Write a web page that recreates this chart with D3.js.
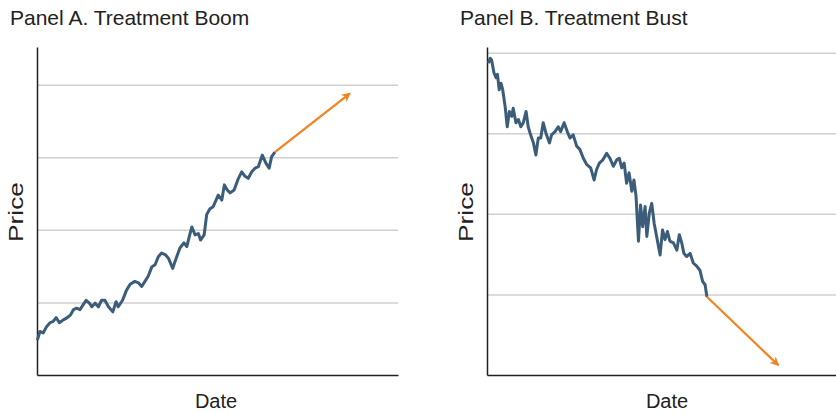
<!DOCTYPE html>
<html lang="en">
<head>
    <meta charset="UTF-8">
    <title>Treatment Boom and Bust</title>
    <script src="https://d3js.org/d3.v7.min.js"></script>
    <style>
        body {
            margin: 0;
            font-family: "Liberation Sans", Arial, Helvetica, sans-serif;
            background: white;
        }
        .title { font-size: 21px; fill: #222; }
        .label { font-size: 20px; fill: #222; }
    </style>
</head>
<body>
    <svg id="vis" width="836" height="414"></svg>
    <script>
        // Panel A: time (0-100) and price
        const boomT = [0.1, 0.8, 1.7, 2.7, 3.6, 4.5, 5.3, 6.2, 7.3, 8.4, 9.3, 10.1, 11.0, 11.9, 12.8, 13.6, 14.5, 15.2, 16.1, 17.0,
            17.9, 18.8, 19.8, 21.0, 21.9, 22.5, 23.7, 24.8, 25.8, 27.1, 28.1, 29.0, 29.9, 30.8, 31.8, 32.7, 33.6, 34.5, 35.5, 36.4,
            37.6, 38.7, 39.6, 40.7, 41.5, 42.2, 42.9, 43.8, 44.7, 45.3, 46.3, 47.0, 47.9, 48.8, 49.6, 50.2, 51.2, 51.9, 52.7, 53.5,
            54.6, 55.8, 56.7, 57.6, 58.5, 59.5, 60.4, 61.3, 62.4, 63.4, 64.3, 65.0, 65.9];
        const boomPrice = [0.48, 0.60, 0.58, 0.67, 0.72, 0.74, 0.79, 0.72, 0.76, 0.79, 0.83, 0.90, 0.92, 0.90, 0.97, 1.03, 0.99, 0.94, 0.99, 0.94,
            1.03, 1.03, 0.94, 0.87, 1.01, 0.94, 1.03, 1.17, 1.25, 1.29, 1.27, 1.22, 1.29, 1.36, 1.49, 1.52, 1.63, 1.68, 1.66, 1.61,
            1.47, 1.63, 1.75, 1.82, 1.77, 1.91, 2.04, 1.93, 1.95, 1.86, 1.93, 2.21, 2.29, 2.32, 2.41, 2.48, 2.41, 2.62, 2.55, 2.51,
            2.55, 2.71, 2.80, 2.74, 2.71, 2.80, 2.85, 2.87, 3.03, 2.92, 2.85, 3.01, 3.07];
        const boomArrowEnd = [86.7, 3.88];

        // Panel B
        const bustT = [0.4, 0.9, 1.3, 2.0, 2.6, 3.0, 3.5, 4.0, 4.5, 5.2, 5.8, 6.4, 7.1, 7.5, 8.3, 9.0, 9.7, 10.4, 11.2, 11.8,
            12.5, 13.3, 14.0, 14.7, 15.4, 16.1, 16.9, 17.9, 18.5, 19.5, 20.4, 21.1, 22.1, 23.0, 23.8, 24.7, 25.7, 26.6, 27.6, 28.6,
            29.7, 30.7, 31.4, 32.2, 33.2, 34.3, 35.2, 36.2, 37.2, 37.9, 38.6, 39.3, 40.0, 40.7, 41.5, 42.1, 42.7, 43.4, 44.0, 44.6,
            45.3, 45.8, 46.5, 47.2, 47.9, 48.6, 49.6, 50.3, 51.0, 51.7, 52.4, 53.4, 54.4, 55.1, 55.8, 56.4, 57.2, 58.2, 59.1, 60.1,
            61.0, 61.8, 62.5, 63.0];
        const bustPrice = [3.87, 3.93, 3.91, 3.75, 3.69, 3.73, 3.54, 3.62, 3.54, 3.33, 3.08, 3.27, 3.21, 3.31, 3.13, 3.17, 3.08, 3.13, 3.27, 3.08,
            2.98, 2.88, 2.73, 2.94, 2.94, 3.13, 3.00, 2.88, 2.98, 3.02, 3.08, 3.02, 3.13, 3.02, 2.94, 2.98, 2.84, 2.80, 2.69, 2.61,
            2.57, 2.42, 2.55, 2.63, 2.67, 2.75, 2.69, 2.59, 2.67, 2.69, 2.57, 2.63, 2.38, 2.51, 2.28, 2.42, 2.22, 1.66, 2.11, 1.84,
            2.09, 1.72, 2.01, 2.13, 1.88, 1.72, 1.49, 1.80, 1.68, 1.78, 1.66, 1.64, 1.55, 1.74, 1.64, 1.51, 1.47, 1.51, 1.39, 1.35,
            1.30, 1.16, 1.12, 0.97];
        const bustArrowEnd = [83.5, 0.12];

        const gridValues = [1, 2, 3, 4];
        const titles = ["Panel A. Treatment Boom", "Panel B. Treatment Bust"];

        const svg = d3.select("#vis");

        svg.append("defs").append("marker")
            .attr("id", "arrow")
            .attr("viewBox", "-10 -6 12 12")
            .attr("refX", 0)
            .attr("refY", 0)
            .attr("markerWidth", 12)
            .attr("markerHeight", 12)
            .attr("markerUnits", "userSpaceOnUse")
            .attr("orient", "auto")
            .append("path")
            .attr("d", "M1,0 L-8,-4.5 L-5.5,0 L-8,4.5 Z")
            .attr("fill", "#f58220");

        const panels = [
            { title: titles[0], t: boomT, p: boomPrice, end: boomArrowEnd, left: 37, right: 398, yMax: 4.52, titleX: 10, dateX: 216 },
            { title: titles[1], t: bustT, p: bustPrice, end: bustArrowEnd, left: 487, right: 836, yMax: 4.07, titleX: 460, dateX: 667 }
        ];
        const plotTop = 47, plotBottom = 375;

        panels.forEach(pn => {
            const x = d3.scaleLinear().domain([0, 100]).range([pn.left, pn.right]);
            const y = d3.scaleLinear().domain([0, pn.yMax]).range([plotBottom, plotTop]);
            const g = svg.append("g");

            // gridlines
            g.append("g")
                .attr("transform", `translate(${pn.left},0)`)
                .call(d3.axisLeft(y).tickValues(gridValues).tickSize(-(pn.right - pn.left)).tickFormat(""))
                .call(a => a.select(".domain").remove())
                .call(a => a.selectAll("line").attr("stroke", "#d0d0d0").attr("stroke-width", 1.5));

            // axes
            g.append("g")
                .attr("transform", `translate(${pn.left},0)`)
                .call(d3.axisLeft(y).tickValues([]).tickSizeOuter(0))
                .call(a => a.select(".domain").attr("stroke", "#222").attr("stroke-width", 1.5));
            g.append("g")
                .attr("transform", `translate(0,${plotBottom})`)
                .call(d3.axisBottom(x).tickValues([]).tickSizeOuter(0))
                .call(a => a.select(".domain").attr("stroke", "#222").attr("stroke-width", 1.5));

            const pts = pn.t.map((t, i) => [t, pn.p[i]]);
            const line = d3.line().x(d => x(d[0])).y(d => y(d[1]));

            // projected arrow
            const last = pts[pts.length - 1];
            g.append("path")
                .attr("d", line([last, pn.end]))
                .attr("fill", "none")
                .attr("stroke", "#f58220")
                .attr("stroke-width", 2.2)
                .attr("marker-end", "url(#arrow)");

            g.append("path")
                .attr("d", line(pts))
                .attr("fill", "none")
                .attr("stroke", "#3b5d7a")
                .attr("stroke-width", 3)
                .attr("stroke-linejoin", "round");

            g.append("text")
                .attr("class", "title")
                .attr("x", pn.titleX)
                .attr("y", 25)
                .text(pn.title);

            g.append("text")
                .attr("class", "label")
                .attr("text-anchor", "middle")
                .attr("x", pn.dateX)
                .attr("y", 408)
                .text("Date");

            g.append("text")
                .attr("class", "label")
                .attr("text-anchor", "middle")
                .attr("transform", `translate(${pn.left - 14},212) rotate(-90)`)
                .attr("textLength", 60)
                .attr("lengthAdjust", "spacingAndGlyphs")
                .style("font-size", "21px")
                .text("Price");
        });
    </script>
</body>
</html>
